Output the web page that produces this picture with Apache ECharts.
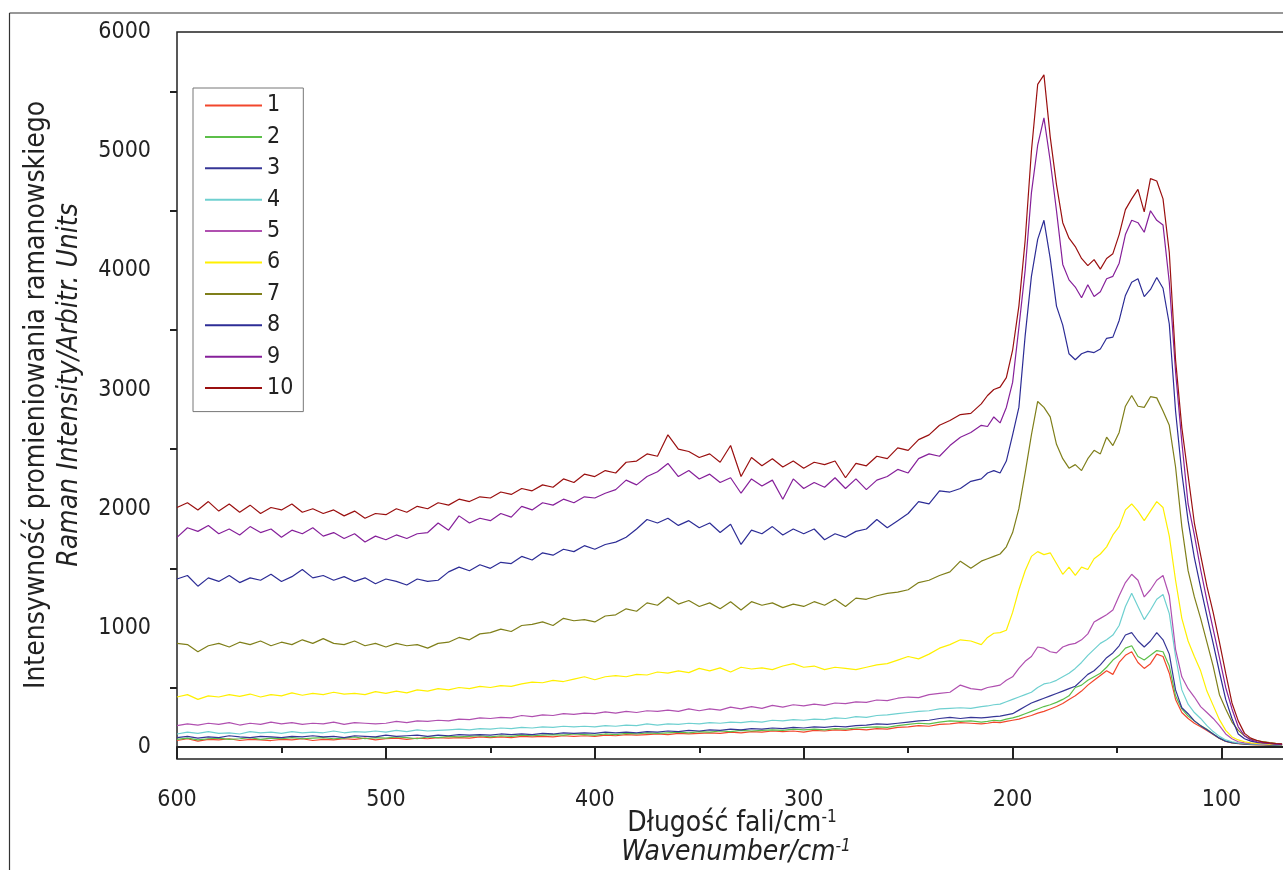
<!DOCTYPE html>
<html>
<head>
    <meta http-equiv="Content-Type" content="text/html; charset=UTF-8"/>
    <title>ECharts</title>
    <script src="https://cdn.jsdelivr.net/npm/echarts@6/dist/echarts.min.js"></script>
    <style>
        html, body { margin: 0; padding: 0; overflow: hidden; background: #fff; }
    </style>
</head>
<body>
<!-- the plot runs on to 0 cm-1, past the right edge of the window -->
<div id="main" style="width: 1440px;height:870px;"></div>
<script>
    // wavenumber, cm-1 (x axis runs from 600 down)
    var wavenumbers = [
        600,595,590,585,580,575,570,565,560,555,
        550,545,540,535,530,525,520,515,510,505,
        500,495,490,485,480,475,470,465,460,455,
        450,445,440,435,430,425,420,415,410,405,
        400,395,390,385,380,375,370,365,360,355,
        350,345,340,335,330,325,320,315,310,305,
        300,295,290,285,280,275,270,265,260,255,
        250,245,240,235,230,225,220,215,
        212,209,206,203,200,197,194,191,188,185,
        182,179,176,173,170,167,164,161,158,155,
        152,149,146,143,140,137,134,131,128,125,
        122,119,116,113,110,107,104,101,98,95,
        92,89,86,83,80,77,74,71
    ];

    var s1 = [
        55,70,50,65,60,70,55,65,60,55,
        65,60,70,55,65,60,70,65,75,60,
        70,75,65,75,70,80,75,80,75,85,
        80,85,80,90,85,90,85,95,90,95,
        90,100,95,105,100,105,110,105,115,110,
        115,120,115,125,120,130,125,135,130,135,
        125,140,135,145,140,150,145,155,150,165,
        170,180,175,190,195,205,200,195,
        200,210,205,215,225,235,250,265,285,300,
        320,340,365,400,430,470,520,560,600,640,
        610,710,770,800,710,660,700,780,760,620,
        400,290,240,200,170,140,105,72,48,36,
        28,24,21,19,18,16,15,14
    ];
    var s2 = [
        65,75,60,70,75,65,70,80,65,75,
        70,80,70,75,80,70,75,85,70,80,
        75,85,80,70,85,80,90,85,90,95,
        85,95,90,100,95,100,105,100,110,105,
        100,110,105,115,110,120,115,120,125,120,
        130,125,135,130,140,135,140,145,140,150,
        145,150,145,155,150,160,165,170,165,180,
        190,200,195,210,220,215,220,210,
        215,225,220,235,245,260,280,300,320,340,
        355,375,400,430,500,520,560,590,620,670,
        730,770,830,850,760,730,770,810,800,680,
        430,320,260,220,180,150,110,75,50,38,
        30,26,23,21,20,18,17,15
    ];
    var s3 = [
        80,90,75,85,80,95,85,80,90,85,
        80,90,85,95,85,90,80,95,90,85,
        100,90,95,100,90,100,95,105,100,105,
        100,110,105,110,105,115,110,120,115,120,
        115,125,120,125,120,130,125,135,130,140,
        135,145,140,150,145,155,150,160,155,165,
        160,170,165,175,170,180,185,195,190,200,
        210,220,225,240,250,240,250,245,
        250,255,260,270,280,310,340,370,390,410,
        430,450,470,490,510,560,610,640,690,750,
        790,850,940,960,890,840,890,960,900,780,
        480,330,280,220,180,145,110,75,50,38,
        30,26,24,22,20,19,18,16
    ];
    var s4 = [
        110,125,115,130,115,120,110,130,120,125,
        115,130,120,125,120,135,120,130,125,135,
        125,140,130,145,135,140,145,150,145,155,
        150,160,155,165,160,170,165,175,170,175,
        170,180,175,185,180,195,185,195,190,200,
        195,205,200,210,205,215,210,225,220,230,
        225,235,230,245,240,255,250,265,270,280,
        290,300,305,320,325,330,325,340,
        345,355,360,380,400,420,440,460,500,530,
        540,560,590,620,660,710,770,820,870,900,
        940,1020,1180,1290,1180,1070,1150,1240,1280,1120,
        760,480,360,290,240,180,130,90,60,45,
        35,30,27,25,23,22,20,18
    ];
    var s5 = [
        180,195,185,200,190,205,185,200,190,210,
        195,205,190,200,195,210,190,205,200,195,
        200,215,205,220,215,225,220,235,230,245,
        240,250,245,265,255,270,265,280,275,285,
        280,295,285,300,290,305,300,310,300,320,
        305,320,310,335,320,340,325,350,335,355,
        345,360,350,370,365,380,375,395,390,410,
        420,415,440,450,460,520,490,480,
        500,510,520,560,590,660,720,760,840,830,
        800,790,840,860,870,900,950,1050,1080,1110,
        1150,1270,1380,1450,1400,1260,1320,1400,1440,1270,
        820,590,490,420,340,290,240,180,110,70,
        45,35,30,28,26,24,22,20
    ];
    var s6 = [
        420,440,400,430,420,440,425,445,420,440,
        430,455,435,450,440,460,445,450,440,465,
        450,470,455,480,470,490,480,500,490,510,
        500,515,510,530,545,540,560,550,570,590,
        565,590,600,590,610,605,630,620,640,625,
        660,640,665,630,670,655,665,650,680,700,
        670,680,650,670,660,650,670,690,700,730,
        760,740,780,830,860,900,890,860,
        920,955,960,980,1130,1320,1480,1600,1640,1615,
        1630,1540,1450,1510,1440,1510,1490,1580,1620,1680,
        1780,1850,1990,2040,1980,1900,1980,2060,2010,1770,
        1400,1080,890,760,640,470,350,230,140,85,
        60,45,35,30,28,25,22,20
    ];
    var s7 = [
        870,860,800,850,870,840,880,860,890,850,
        880,860,900,870,910,870,860,890,850,870,
        840,870,850,860,830,870,880,920,900,950,
        960,990,970,1020,1030,1050,1020,1080,1060,1070,
        1050,1100,1110,1160,1140,1210,1190,1260,1200,1230,
        1180,1210,1160,1220,1150,1220,1190,1210,1170,1200,
        1180,1220,1190,1240,1180,1250,1240,1270,1290,1300,
        1320,1380,1400,1440,1470,1560,1500,1560,
        1580,1600,1620,1680,1800,2000,2300,2620,2900,2850,
        2770,2540,2420,2340,2370,2320,2420,2490,2460,2600,
        2530,2640,2860,2950,2860,2850,2940,2930,2820,2700,
        2350,1850,1480,1260,1080,880,680,440,320,210,
        140,95,65,55,45,38,32,28
    ];
    var s8 = [
        1410,1440,1350,1420,1390,1440,1380,1420,1400,1450,
        1390,1430,1490,1420,1440,1400,1430,1390,1420,1370,
        1410,1390,1360,1410,1390,1400,1470,1510,1480,1530,
        1500,1550,1540,1600,1570,1630,1610,1660,1640,1690,
        1660,1700,1720,1760,1830,1910,1880,1920,1860,1900,
        1840,1880,1800,1870,1700,1820,1790,1850,1780,1830,
        1790,1830,1740,1790,1760,1810,1830,1910,1840,1900,
        1960,2060,2040,2150,2140,2170,2230,2250,
        2300,2320,2300,2400,2620,2850,3450,3950,4260,4420,
        4100,3700,3540,3300,3250,3300,3320,3310,3340,3430,
        3440,3580,3790,3900,3930,3780,3840,3940,3850,3550,
        2820,2300,1900,1590,1340,1100,870,630,400,240,
        110,70,50,40,35,30,25,22
    ];
    var s9 = [
        1760,1840,1810,1860,1790,1830,1780,1850,1800,1830,
        1760,1820,1790,1840,1770,1800,1750,1790,1720,1770,
        1740,1780,1750,1790,1800,1880,1820,1940,1880,1920,
        1900,1960,1930,2020,1990,2050,2030,2080,2050,2100,
        2090,2130,2160,2240,2200,2270,2310,2380,2270,2320,
        2250,2290,2220,2260,2130,2250,2190,2240,2080,2250,
        2170,2220,2180,2260,2170,2250,2160,2240,2270,2330,
        2300,2420,2460,2440,2530,2600,2640,2700,
        2690,2770,2720,2850,3060,3520,4000,4650,5050,5280,
        4920,4500,4050,3920,3860,3770,3880,3780,3820,3930,
        3950,4060,4300,4420,4400,4320,4500,4420,4380,3900,
        3150,2560,2040,1780,1490,1230,990,750,500,320,
        170,95,60,45,35,30,25,22
    ];
    var s10 = [
        2010,2050,1990,2060,1980,2040,1970,2030,1960,2010,
        1990,2040,1970,2000,1960,1990,1940,1980,1920,1960,
        1950,2000,1970,2020,2000,2050,2030,2080,2060,2100,
        2090,2140,2120,2170,2150,2200,2180,2250,2220,2290,
        2270,2320,2300,2390,2400,2460,2440,2620,2500,2480,
        2430,2460,2390,2530,2270,2430,2360,2420,2350,2400,
        2340,2390,2370,2400,2260,2380,2360,2440,2420,2510,
        2490,2580,2620,2700,2740,2790,2800,2880,
        2950,3000,3020,3100,3330,3700,4250,5000,5560,5640,
        5120,4720,4400,4270,4200,4100,4040,4090,4010,4100,
        4140,4300,4510,4600,4680,4490,4770,4750,4600,4150,
        3250,2680,2280,1880,1610,1350,1130,880,620,370,
        220,115,75,55,42,35,30,26
    ];

    var seriesNames = ['1','2','3','4','5','6','7','8','9','10'];
    var seriesValues = [s1, s2, s3, s4, s5, s6, s7, s8, s9, s10];
    var seriesColors = ['#f2472c','#5cbf4a','#363696','#6fd0d0','#b050b0',
                        '#fff000','#7f7f1a','#2d2d96','#86209a','#9a1010'];

    var yMajor = [0, 1000, 2000, 3000, 4000, 5000, 6000];
    var yMinor = [500, 1500, 2500, 3500, 4500, 5500];

    var font = "'DejaVu Sans Condensed', 'Liberation Sans Narrow', sans-serif";
    var ink = '#222';

    var myChart = echarts.init(document.getElementById('main'));

    var series = seriesNames.map(function (name, k) {
        return {
            name: name,
            type: 'line',
            symbol: 'none',
            showSymbol: false,
            color: seriesColors[k],
            lineStyle: {width: 1.2, color: seriesColors[k]},
            data: wavenumbers.map(function (w, i) { return [w, seriesValues[k][i]]; })
        };
    });

    option = {
        animation: false,
        grid: {
            left: 177, top: 32, width: 1256, height: 727,
            show: true, borderColor: ink, borderWidth: 1.5
        },
        legend: {
            orient: 'vertical',
            left: 193, top: 88,
            padding: [6, 10, 12, 12],
            itemGap: 8.4,
            icon: 'rect',
            itemWidth: 57, itemHeight: 2,
            borderColor: '#777', borderWidth: 1,
            textStyle: {fontFamily: font, fontSize: 23, color: ink},
            data: seriesNames
        },
        xAxis: {
            type: 'value',
            min: 0, max: 600, interval: 100,
            inverse: true,
            axisLine: {lineStyle: {color: ink, width: 2}},
            axisTick: {length: 12, lineStyle: {color: ink, width: 2}},
            minorTick: {show: true, splitNumber: 2, length: 6, lineStyle: {color: ink, width: 2}},
            axisLabel: {margin: 30, fontFamily: font, fontSize: 23, color: ink},
            splitLine: {show: false}
        },
        yAxis: [{
            type: 'value',
            min: -100, max: 6000,
            axisLine: {show: true, lineStyle: {color: ink, width: 2}},
            axisTick: {show: true, length: 13, customValues: yMajor, lineStyle: {color: ink, width: 2}},
            axisLabel: {
                margin: 26, customValues: yMajor, fontFamily: font, fontSize: 23, color: ink,
                formatter: function (v) { return String(v); }
            },
            splitLine: {show: false}
        }, {
            type: 'value',
            min: -100, max: 6000,
            position: 'left',
            axisLine: {show: false},
            axisTick: {show: true, length: 7, customValues: yMinor, lineStyle: {color: ink, width: 2}},
            axisLabel: {show: false},
            splitLine: {show: false}
        }],
        graphic: [
            {type: 'line', shape: {x1: 9.5, y1: 13, x2: 9.5, y2: 870}, style: {stroke: '#333', lineWidth: 1.2}},
            {type: 'line', shape: {x1: 9.5, y1: 13, x2: 1440, y2: 13}, style: {stroke: '#333', lineWidth: 1.2}},
            {
                type: 'text', x: 37, y: 395, rotation: Math.PI / 2,
                style: {text: 'Intensywność promieniowania ramanowskiego', font: '28px ' + font,
                        fill: ink, textAlign: 'center', textVerticalAlign: 'middle'}
            },
            {
                type: 'text', x: 70, y: 385, rotation: Math.PI / 2,
                style: {text: 'Raman Intensity/Arbitr. Units', font: 'italic 28px ' + font,
                        fill: ink, textAlign: 'center', textVerticalAlign: 'middle'}
            },
            {
                type: 'text', x: 732, y: 824,
                style: {
                    text: '{a|Długość fali/cm}{s|-1}', fill: ink,
                    textAlign: 'center', textVerticalAlign: 'middle',
                    rich: {
                        a: {fontFamily: font, fontSize: 28, lineHeight: 30},
                        s: {fontFamily: font, fontSize: 17, lineHeight: 30, verticalAlign: 'top'}
                    }
                }
            },
            {
                type: 'text', x: 736, y: 853,
                style: {
                    text: '{a|Wavenumber/cm}{s|-1}', fill: ink,
                    textAlign: 'center', textVerticalAlign: 'middle',
                    rich: {
                        a: {fontFamily: font, fontSize: 28, fontStyle: 'italic', lineHeight: 30},
                        s: {fontFamily: font, fontSize: 17, fontStyle: 'italic', lineHeight: 30, verticalAlign: 'top'}
                    }
                }
            }
        ],
        series: series
    };

    myChart.setOption(option);
</script>
</body>
</html>
